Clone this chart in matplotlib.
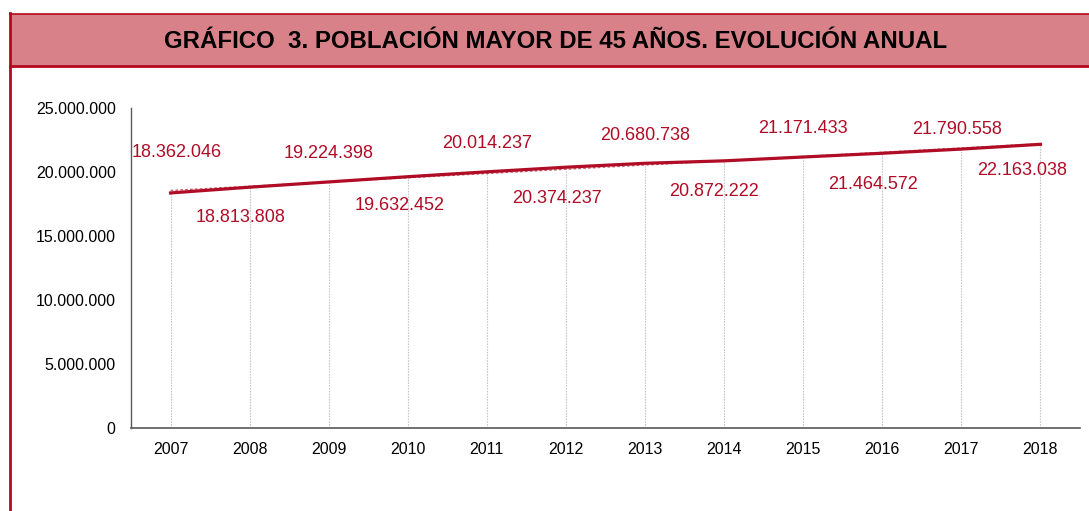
import matplotlib.pyplot as plt
import numpy as np
from matplotlib.patches import Rectangle
from matplotlib.lines import Line2D

plt.rcParams['font.family'] = ['Liberation Sans', 'DejaVu Sans']

years = ['2007', '2008', '2009', '2010', '2011', '2012',
         '2013', '2014', '2015', '2016', '2017', '2018']
population = [18362046, 18813808, 19224398, 19632452, 20014237, 20374237,
              20680738, 20872222, 21171433, 21464572, 21790558, 22163038]
title = 'GRÁFICO  3. POBLACIÓN MAYOR DE 45 AÑOS. EVOLUCIÓN ANUAL'

# label offsets in pixels (dx, dy) -- alternating above/below
label_offsets = [(6, 41), (-9, -29), (0, 29), (-8, -28), (0, 29), (-9, -30),
                 (0, 29), (-10, -30), (0, 30), (-9, -30), (-4, 21), (-18, -25)]

red = '#B00C26'

fig = plt.figure(figsize=(10.89, 5.11), dpi=100)

# header band and frame
fig.patches.append(Rectangle((10 / 1089, 1 - 67 / 511), 1, 53 / 511,
                             transform=fig.transFigure, facecolor='#D98189',
                             edgecolor='none', zorder=0))
fig.lines.append(Line2D([10 / 1089, 1], [1 - 14 / 511, 1 - 14 / 511],
                        transform=fig.transFigure, color='#B5081F', lw=1.2))
fig.lines.append(Line2D([10 / 1089, 1], [1 - 66.5 / 511, 1 - 66.5 / 511],
                        transform=fig.transFigure, color='#B5081F', lw=2))
fig.lines.append(Line2D([10 / 1089, 10 / 1089], [0, 1 - 13 / 511],
                        transform=fig.transFigure, color='#B5081F', lw=2))
fig.text(556 / 1089, 1 - 41 / 511, title, ha='center', va='center',
         fontsize=17.3, fontweight='bold', color='black')

ax = fig.add_axes([131 / 1089, 1 - 428 / 511, (1080 - 131) / 1089, 320 / 511])
x = np.arange(len(years))
ax.plot(x, population, color=red, lw=2.3, zorder=3)

# linear trend line
coef = np.polyfit(x, population, 1)
ax.plot(x, np.polyval(coef, x), color='#C9606D', lw=1, ls=(0, (2, 1.5)), zorder=2)

# drop lines
ax.vlines(x, 0, population, colors='#C8C8C8', lw=0.8, linestyles=(0, (1.5, 1)), zorder=1)

for xi, v, (dx, dy) in zip(x, population, label_offsets):
    lab = f'{v:,}'.replace(',', '.')
    ax.annotate(lab, (xi, v), xytext=(dx * 0.72, (dy - 1) * 0.72), textcoords='offset points',
                ha='center', va='center', fontsize=13, color=red)

ax.set_xlim(-0.5, len(years) - 0.5)
ax.set_ylim(0, 25000000)
ticks = np.arange(0, 25000001, 5000000)
ax.set_yticks(ticks)
ax.set_yticklabels([f'{int(t):,}'.replace(',', '.') for t in ticks])
ax.set_xticks(x)
ax.set_xticklabels(years)
ax.tick_params(axis='both', length=0, labelsize=11.5, colors='black')
ax.tick_params(axis='y', pad=11)
ax.tick_params(axis='x', pad=10)
for s in ['top', 'right']:
    ax.spines[s].set_visible(False)
ax.spines['left'].set_color('#595959')
ax.spines['bottom'].set_color('#595959')
ax.spines['left'].set_linewidth(1)
ax.spines['bottom'].set_linewidth(1.2)

fig.savefig('out.png', dpi=100)
